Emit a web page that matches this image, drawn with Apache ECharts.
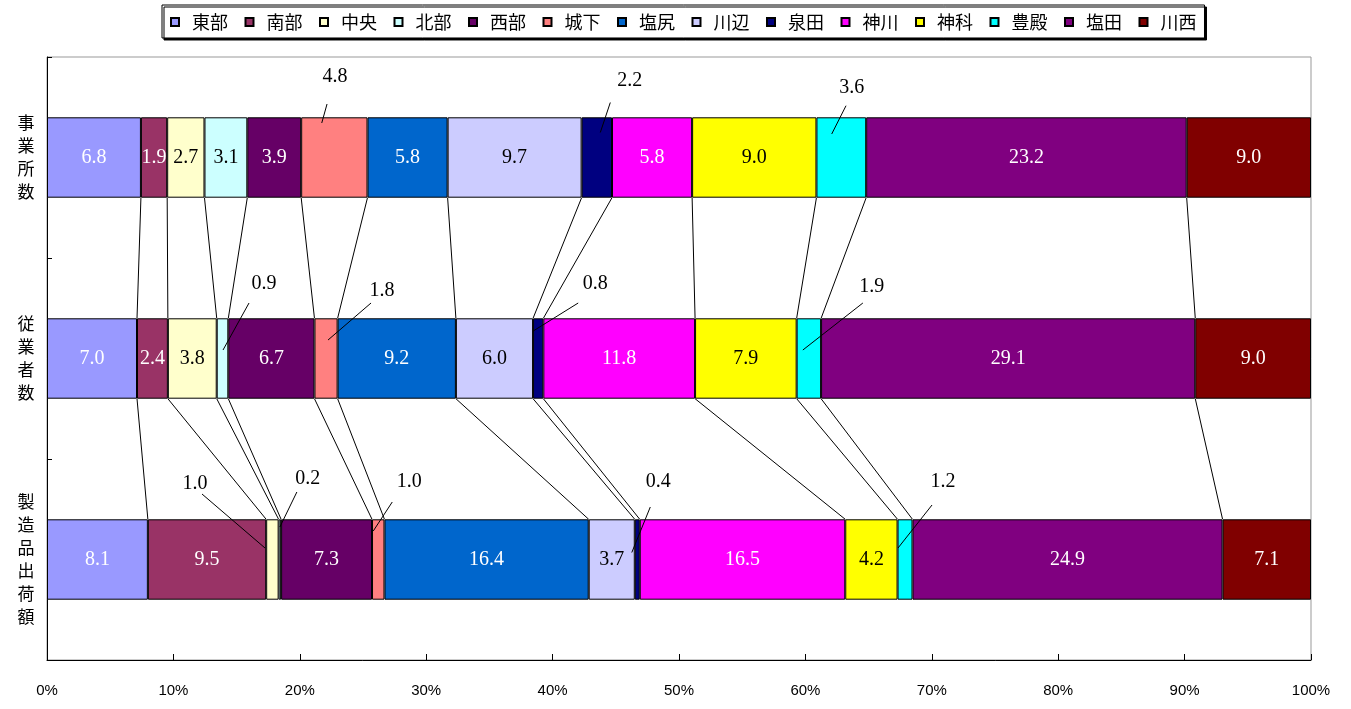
<!DOCTYPE html>
<html>
<head>
<meta charset="utf-8">
<script src="https://cdn.jsdelivr.net/npm/echarts@6/dist/echarts.min.js"></script>
<style>html,body{margin:0;padding:0;background:#fff}#c{width:1351px;height:709px}</style>
</head>
<body>
<div id="c"></div>
<script>
// ---- data ----
const categories = ['事業所数', '従業者数', '製造品出荷額'];
const regions = ['東部','南部','中央','北部','西部','城下','塩尻','川辺','泉田','神川','神科','豊殿','塩田','川西'];
const jigyoshoSu = [6.8, 1.9, 2.7, 3.1, 3.9, 4.8, 5.8, 9.7, 2.2, 5.8, 9.0, 3.6, 23.2, 9.0];
const jugyoshaSu = [7.0, 2.4, 3.8, 0.9, 6.7, 1.8, 9.2, 6.0, 0.8, 11.8, 7.9, 1.9, 29.1, 9.0];
const shukkaGaku = [8.1, 9.5, 1.0, 0.2, 7.3, 1.0, 16.4, 3.7, 0.4, 16.5, 4.2, 1.2, 24.9, 7.1];
const xTickLabels = ['0%','10%','20%','30%','40%','50%','60%','70%','80%','90%','100%'];

// ---- styles / layout ----
const colors = ['#9999FF','#993366','#FFFFCC','#CCFFFF','#660066','#FF8080','#0066CC','#CCCCFF','#000080','#FF00FF','#FFFF00','#00FFFF','#800080','#800000'];
const labelColors = ['#fff','#fff','#000','#000','#fff','#000','#fff','#000','#fff','#fff','#000','#000','#fff','#fff'];
const BAR_RATIO = 0.4;
const valueFont = '20px "Liberation Serif", "Times New Roman", serif';
// callouts: [region, row] -> anchor, leader top, label center (px offsets from segment centre)
const calloutLayout = [
  {r:'城下', row:0, a:[-12.6,-34.5], t:[-7.3,-53.5], l:[0.7,-81]},
  {r:'泉田', row:0, a:[3.5,-25], t:[13.5,-55], l:[33,-77]},
  {r:'豊殿', row:0, a:[-9.6,-23.5], t:[4.7,-51.8], l:[10.4,-70]},
  {r:'北部', row:1, a:[0.5,-8.5], t:[26.5,-55.5], l:[41.5,-74.5]},
  {r:'城下', row:1, a:[2,-18.5], t:[45,-55.5], l:[56,-67.5]},
  {r:'泉田', row:1, a:[-5,-27.5], t:[40,-55.5], l:[57,-74.5]},
  {r:'豊殿', row:1, a:[-6,-8.5], t:[54,-55.5], l:[63,-71.5]},
  {r:'中央', row:2, a:[-7.4,-11.5], t:[-70.4,-65.5], l:[-77.4,-75.5]},
  {r:'北部', row:2, a:[0,-32.5], t:[17,-67.5], l:[28,-80.5]},
  {r:'城下', row:2, a:[-5,-28.5], t:[14,-57.5], l:[31,-77.5]},
  {r:'泉田', row:2, a:[-5.5,-7], t:[13,-52.5], l:[21,-77.5]},
  {r:'豊殿', row:2, a:[-7,-11.5], t:[27,-54.5], l:[38,-77.5]}
];

// ---- derived ----
const rows = [jigyoshoSu, jugyoshaSu, shukkaGaku];
const sums = rows.map(r => r.reduce((s, v) => s + v, 0));
const pct = rows.map((r, k) => r.map(v => v / sums[k] * 100));
const cum = pct.map(r => { let s = 0; return r.map(v => (s += v)); });
const isCallout = (si, row) => calloutLayout.some(c => c.r === regions[si] && c.row === row);

const barSeries = regions.map((name, si) => ({
  name: name,
  type: 'bar',
  stack: 'all',
  barWidth: (BAR_RATIO * 100) + '%',
  itemStyle: { color: colors[si], borderColor: '#000', borderWidth: 1 },
  label: {
    show: true, position: 'inside', color: labelColors[si],
    fontFamily: '"Liberation Serif", serif', fontSize: 20,
    formatter: p => rows[p.dataIndex][si].toFixed(1)
  },
  emphasis: { disabled: true },
  data: pct.map((r, row) => isCallout(si, row)
    ? { value: r[si], label: { show: false } }
    : r[si])
}));

// series lines between bars
const connData = [];
for (let k = 0; k < rows.length - 1; k++) {
  for (let j = 0; j < regions.length - 1; j++) {
    connData.push([cum[k][j], k, cum[k + 1][j], k + 1]);
  }
}
const connSeries = {
  type: 'custom', name: 'conn', silent: true, z: 3,
  encode: { x: [0, 2], y: [1, 3] },
  renderItem: (params, api) => {
    const p1 = api.coord([api.value(0), api.value(1)]);
    const p2 = api.coord([api.value(2), api.value(3)]);
    const h = api.size([0, 1])[1] * BAR_RATIO / 2;
    return { type: 'line', shape: { x1: p1[0], y1: p1[1] + h, x2: p2[0], y2: p2[1] - h },
      style: { stroke: '#000', lineWidth: 1 } };
  },
  data: connData
};

const calloutData = calloutLayout.map(c => {
  const si = regions.indexOf(c.r);
  return [cum[c.row][si] - pct[c.row][si] / 2, c.row];
});
const calloutSeries = {
  type: 'custom', name: 'callout', silent: true, z: 5,
  encode: { x: 0, y: 1 },
  renderItem: (params, api) => {
    const c = api.coord([api.value(0), api.value(1)]);
    const L = calloutLayout[params.dataIndex];
    const si = regions.indexOf(L.r);
    return { type: 'group', children: [
      { type: 'line', shape: { x1: c[0] + L.a[0], y1: c[1] + L.a[1], x2: c[0] + L.t[0], y2: c[1] + L.t[1] },
        style: { stroke: '#000', lineWidth: 1 } },
      { type: 'text', x: c[0] + L.l[0], y: c[1] + L.l[1],
        style: { text: rows[L.row][si].toFixed(1), font: valueFont, fill: '#000', align: 'center', verticalAlign: 'middle' } }
    ] };
  },
  data: calloutData
};

const chart = echarts.init(document.getElementById('c'), null, { renderer: 'canvas' });
chart.setOption({
  animation: false,
  backgroundColor: '#fff',
  legend: {
    data: regions,
    left: 162, top: 5,
    padding: [8, 8, 7, 8],
    itemGap: 16.5, itemWidth: 8, itemHeight: 8,
    icon: 'rect',
    borderColor: '#000', borderWidth: 1,
    backgroundColor: '#fff',
    shadowColor: '#000', shadowOffsetX: 2, shadowOffsetY: 2, shadowBlur: 0,
    selectedMode: false,
    textStyle: { fontFamily: '"Noto Sans CJK JP", sans-serif', fontSize: 18, color: '#000', padding: [0, 0, 0, 8] }
  },
  grid: { left: 47, right: 40, top: 57, bottom: 49, show: true, borderColor: '#999', borderWidth: 1, containLabel: false },
  xAxis: {
    type: 'value', min: 0, max: 100, interval: 10,
    axisLine: { show: true, lineStyle: { color: '#000', width: 1 } },
    axisTick: { show: true, inside: true, length: 6, lineStyle: { color: '#000' } },
    splitLine: { show: false },
    axisLabel: { margin: 23, color: '#000', fontFamily: '"Liberation Sans Narrow", "Liberation Sans", sans-serif', fontSize: 15,
      formatter: v => xTickLabels[Math.round(v / 10)] }
  },
  yAxis: {
    type: 'category', data: categories, inverse: true,
    axisLine: { show: true, lineStyle: { color: '#000', width: 1 } },
    axisTick: { show: true, inside: true, length: 5, lineStyle: { color: '#000' } },
    axisLabel: { margin: 21, color: '#000', fontFamily: '"Noto Sans CJK JP", sans-serif', fontSize: 17, lineHeight: 23,
      align: 'center', formatter: v => v.split('').join('\n') }
  },
  series: barSeries.concat([connSeries, calloutSeries])
});
</script>
</body>
</html>
